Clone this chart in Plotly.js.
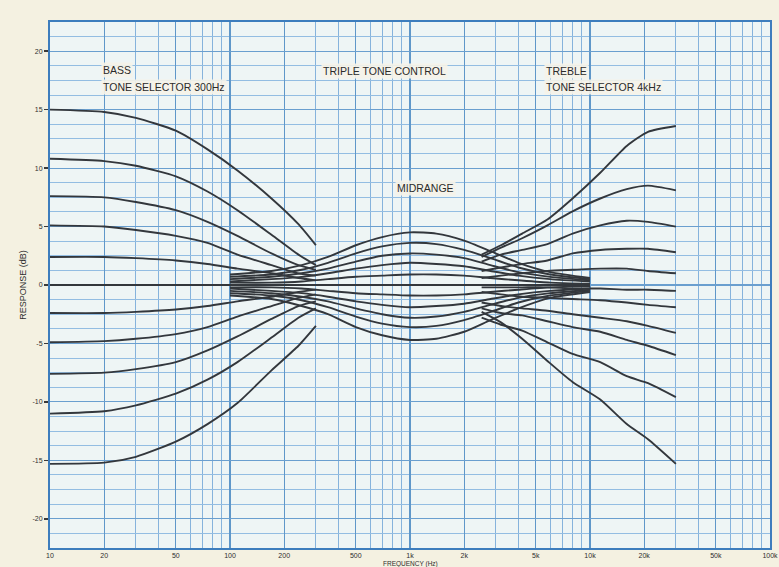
<!DOCTYPE html>
<html>
<head>
<meta charset="utf-8">
<script src="https://cdn.plot.ly/plotly-3.0.1.min.js"></script>
<style>
  html, body { margin: 0; padding: 0; background: #f4f1e1; }
  #chart { width: 779px; height: 567px; }
</style>
</head>
<body>
<div id="chart"></div>
<script>
// Frequency axis labels (Hz)
const freqTicks = [10, 20, 50, 100, 200, 500, 1000, 2000, 5000, 10000, 20000, 50000, 100000];
const freqTickText = ['10', '20', '50', '100', '200', '500', '1k', '2k', '5k', '10k', '20k', '50k', '100k'];
// Response axis labels (dB)
const dbTicks = [-20, -15, -10, -5, 0, 5, 10, 15, 20];
const dbTickText = ['-20', '-15', '-10', '-5', '0', '5', '10', '15', '20'];

// Bass control family (tone selector 300 Hz), one row per knob position
const bassFreq = [10, 20, 30, 50, 75, 110, 170, 240, 300];
const bassCurves = [
  [15.0, 14.8, 14.3, 13.2, 11.6, 9.8, 7.4, 5.2, 3.4],
  [10.8, 10.6, 10.2, 9.3, 8.0, 6.4, 4.3, 2.6, 1.7],
  [7.6, 7.5, 7.1, 6.4, 5.4, 4.2, 2.7, 1.7, 1.3],
  [5.1, 5.0, 4.7, 4.2, 3.6, 2.6, 1.7, 1.0, 0.8],
  [2.4, 2.4, 2.3, 2.1, 1.8, 1.4, 1.0, 0.6, 0.4],
  [0, 0, 0, 0, 0, 0, 0, 0, 0],
  [-2.4, -2.4, -2.3, -2.1, -1.8, -1.4, -1.0, -0.6, -0.4],
  [-4.9, -4.8, -4.6, -4.2, -3.6, -2.7, -1.8, -1.1, -0.8],
  [-7.6, -7.5, -7.2, -6.6, -5.6, -4.4, -2.9, -1.8, -1.4],
  [-11.0, -10.8, -10.3, -9.3, -8.1, -6.6, -4.5, -2.8, -2.0],
  [-15.3, -15.2, -14.7, -13.4, -11.9, -10.1, -7.3, -5.2, -3.5]
];

// Midrange control family
const midFreq = [100, 170, 250, 350, 500, 700, 1000, 1400, 2000, 2800, 4000, 6000, 10000];
const midCurves = [
  [0.9, 1.2, 1.7, 2.4, 3.4, 4.1, 4.5, 4.4, 3.8, 2.9, 1.9, 1.1, 0.6],
  [0.7, 0.9, 1.3, 1.9, 2.7, 3.3, 3.6, 3.5, 3.0, 2.3, 1.5, 0.9, 0.5],
  [0.5, 0.7, 1.0, 1.4, 2.0, 2.5, 2.7, 2.6, 2.3, 1.7, 1.1, 0.7, 0.4],
  [0.3, 0.5, 0.7, 1.0, 1.4, 1.7, 1.9, 1.8, 1.6, 1.2, 0.8, 0.5, 0.3],
  [0.2, 0.2, 0.3, 0.5, 0.7, 0.8, 0.9, 0.9, 0.8, 0.6, 0.4, 0.2, 0.1],
  [0, 0, 0, 0, 0, 0, 0, 0, 0, 0, 0, 0, 0],
  [-0.2, -0.2, -0.3, -0.5, -0.7, -0.8, -0.9, -0.9, -0.8, -0.6, -0.4, -0.2, -0.1],
  [-0.3, -0.5, -0.7, -1.0, -1.4, -1.7, -1.9, -1.8, -1.6, -1.2, -0.8, -0.5, -0.3],
  [-0.5, -0.7, -1.0, -1.4, -2.0, -2.5, -2.8, -2.7, -2.3, -1.7, -1.1, -0.7, -0.4],
  [-0.7, -0.9, -1.3, -1.9, -2.7, -3.3, -3.6, -3.5, -3.0, -2.3, -1.5, -0.9, -0.5],
  [-0.9, -1.2, -1.8, -2.5, -3.6, -4.3, -4.7, -4.6, -4.0, -3.0, -2.0, -1.1, -0.6]
];

// Treble control family (tone selector 4 kHz)
const trebleFreq = [2500, 3200, 4200, 5800, 8000, 11400, 16000, 21000, 30000];
const trebleCurves = [
  [2.6, 3.4, 4.4, 5.6, 7.4, 9.6, 11.9, 13.1, 13.6],
  [2.4, 3.2, 4.0, 5.1, 6.3, 7.4, 8.2, 8.5, 8.1],
  [2.0, 2.6, 3.0, 3.5, 4.4, 5.1, 5.5, 5.4, 5.0],
  [1.2, 1.5, 1.8, 2.1, 2.7, 3.0, 3.1, 3.1, 2.8],
  [0.6, 0.8, 1.0, 1.2, 1.3, 1.4, 1.4, 1.2, 1.0],
  [-0.2, -0.2, -0.2, -0.2, -0.3, -0.3, -0.4, -0.4, -0.5],
  [-0.6, -0.8, -1.0, -1.1, -1.2, -1.3, -1.5, -1.7, -1.9],
  [-1.5, -1.8, -2.0, -2.2, -2.5, -2.8, -3.1, -3.5, -4.1],
  [-2.0, -2.4, -2.6, -3.1, -3.6, -4.0, -4.7, -5.2, -6.0],
  [-2.8, -3.4, -3.9, -4.9, -5.9, -6.6, -7.8, -8.4, -9.6],
  [-2.3, -3.2, -4.6, -6.5, -8.3, -9.8, -11.9, -13.2, -15.3]
];

const curveColor = '#33373c';
function family(freq, rows) {
  return rows.map(r => ({
    type: 'scatter', mode: 'lines', x: freq, y: r,
    line: { color: curveColor, width: 1.9, shape: 'spline', smoothing: 0.6 },
    hoverinfo: 'skip', showlegend: false
  }));
}
const traces = [].concat(
  family(bassFreq, bassCurves),
  family(midFreq, midCurves),
  family(trebleFreq, trebleCurves)
);

// log graph-paper minor divisions between the labelled frequencies
const minorFreq = [];
[10, 100, 1000, 10000].forEach(dec => {
  [3, 4, 6, 7, 8, 9].forEach(m => minorFreq.push(dec * m));
});

const fontFamily = 'Liberation Sans, Arial, sans-serif';
const labelFont = { family: fontFamily, size: 10.5, color: '#2b2b2b' };
const labelBg = 'rgba(245,243,233,0.9)';
function note(text, px, py) {
  return {
    text: text, xref: 'paper', yref: 'paper', x: px, y: py,
    xanchor: 'left', yanchor: 'middle', showarrow: false,
    font: labelFont, bgcolor: labelBg, borderpad: 1
  };
}

const layout = {
  width: 779, height: 567,
  margin: { l: 50, r: 9, t: 22, b: 19 },
  paper_bgcolor: '#f4f1e1',
  plot_bgcolor: '#eef5f5',
  showlegend: false,
  xaxis: {
    type: 'log', range: [1, 5],
    tickmode: 'array', tickvals: freqTicks, ticktext: freqTickText,
    tickfont: { family: fontFamily, size: 7, color: '#2e2e2e' },
    ticks: '', ticklabelstandoff: 0,
    showgrid: true, gridcolor: '#5f97c9', gridwidth: 1.2,
    minor: { tickvals: minorFreq, showgrid: true, gridcolor: '#86b3dc', gridwidth: 1, ticks: '' },
    showline: true, mirror: true, linecolor: '#3d7dbd', linewidth: 2,
    zeroline: false
  },
  yaxis: {
    range: [-22.5, 22.5],
    tickmode: 'array', tickvals: dbTicks, ticktext: dbTickText,
    tickfont: { family: fontFamily, size: 7, color: '#2e2e2e' },
    ticks: 'outside', ticklen: 4, tickcolor: '#3a3a3a', tickwidth: 1.5,
    showgrid: true, gridcolor: '#6a9fcf', gridwidth: 1.2,
    minor: { dtick: 1.25, tick0: 0, showgrid: true, gridcolor: '#93bde2', gridwidth: 1, ticks: '' },
    showline: true, mirror: true, linecolor: '#3d7dbd', linewidth: 2,
    zeroline: false,
    title: { text: 'RESPONSE (dB)', font: { family: fontFamily, size: 9, color: '#2e2e2e' }, standoff: 4 }
  },
  annotations: [
    note('BASS', 0.071, 0.909),
    note('TONE SELECTOR 300Hz', 0.071, 0.876),
    note('TRIPLE TONE CONTROL', 0.376, 0.907),
    note('TREBLE', 0.686, 0.907),
    note('TONE SELECTOR 4kHz', 0.686, 0.876),
    note('MIDRANGE', 0.479, 0.684),
    // frequency axis title, set low under the tick labels
    {
      text: 'FREQUENCY (Hz)', xref: 'paper', yref: 'paper', x: 0.5, y: -0.0209,
      xanchor: 'center', yanchor: 'top', showarrow: false, borderpad: 0,
      font: { family: fontFamily, size: 6.5, color: '#2e2e2e' }
    }
  ]
};

Plotly.newPlot('chart', traces, layout, { staticPlot: true, displayModeBar: false });
</script>
</body>
</html>
